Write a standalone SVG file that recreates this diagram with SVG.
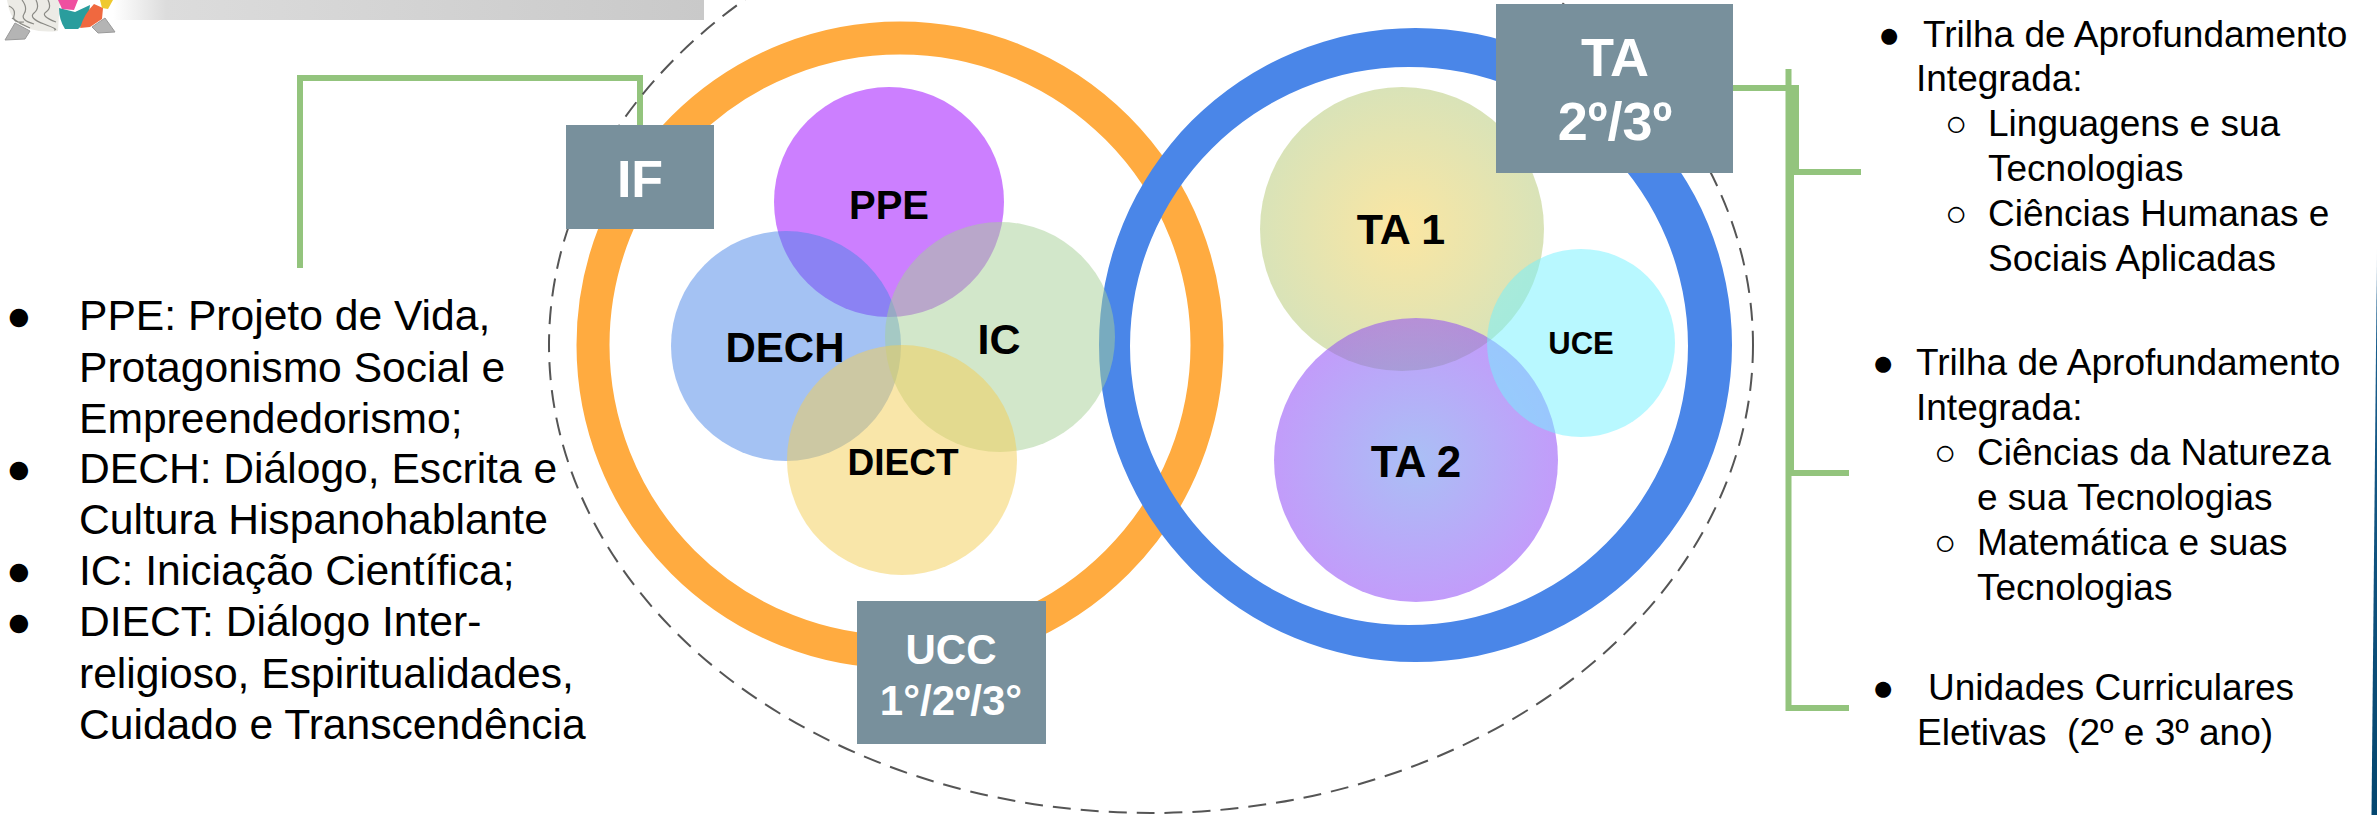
<svg xmlns="http://www.w3.org/2000/svg" width="2377" height="815" viewBox="0 0 2377 815">
<defs>
<linearGradient id="hdr" x1="0" x2="1" y1="0" y2="0"><stop offset="0" stop-color="#ffffff"/><stop offset="0.09" stop-color="#dcdcdc"/><stop offset="1" stop-color="#c9c9c9"/></linearGradient>
<linearGradient id="edge" x1="0" x2="0" y1="0" y2="1"><stop offset="0" stop-color="#ffffff"/><stop offset="0.1" stop-color="#1a5f8f"/><stop offset="1" stop-color="#04466f"/></linearGradient>
<radialGradient id="ta1g"><stop offset="0" stop-color="#fbe6a2"/><stop offset="1" stop-color="#d9e3b8"/></radialGradient>
<radialGradient id="ta2g"><stop offset="0" stop-color="#648ced"/><stop offset="1" stop-color="#904bf6"/></radialGradient>
<style>
.t{font-family:"Liberation Sans",Arial,sans-serif;fill:#000}
.l{font-size:42.6px}
.r{font-size:37px}
.box{fill:#78909c}
.w{font-family:"Liberation Sans",Arial,sans-serif;font-weight:700;fill:#fff;text-anchor:middle}
.c{font-family:"Liberation Sans",Arial,sans-serif;font-weight:700;fill:#000;text-anchor:middle}
.g{fill:none;stroke:#93c47d;stroke-width:6}
.br{fill:none;stroke:#8a8a85;stroke-width:1.2}
</style>
</defs>
<rect width="2377" height="815" fill="#fff"/>
<g id="header"><rect x="113" y="0" width="591" height="20" fill="url(#hdr)"/>
<path d="M15 23L5 40L25 39L30 31Z M92 27L105 18L115 32L98 33Z" fill="#b4b4b4" stroke="#9a9a9a"/>
<path d="M7 0Q9 14 16 22Q32 34 58 31L60 0Z" fill="#ecebe6"/>
<path class="br" d="M9 6Q16 9 14 16T24 22M22 0Q28 8 24 14T34 24M36 0Q40 8 34 13T44 24T54 30M48 0Q52 8 46 12T56 22M12 18Q20 24 30 28"/>
<path d="M59 8L75 12L90 5L88 20L78 29L65 29Q59 20 59 8Z" fill="#2a9d9d"/>
<path d="M80 28Q84 14 94 4L103 8L102 19L90 27Z" fill="#f0683f"/>
<path d="M58 0H78L74 10L62 9Z" fill="#ef4fa0"/>
<path d="M100 0H113L108 9L102 8Z" fill="#efc92e"/></g>
<path id="edge-bar" d="M2377 245V815H2371.500Z" fill="url(#edge)"/>
<g id="connectors">
<path class="g" d="M300 268V78H640V125"/>
<path class="g" d="M1733 88H1796V172H1861"/>
<path class="g" d="M1788.500 69V708H1849M1788.500 473H1849"/>
<path class="g" d="M1791 88V473"/>
</g>
<ellipse id="boundary" cx="1151" cy="345" rx="602" ry="468" fill="none" stroke="#555" stroke-width="2" stroke-dasharray="18 10"/>
<g id="ring-ucc"><circle cx="900" cy="345" r="307" fill="none" stroke="#ffab40" stroke-width="33"/></g>
<g id="ring-ta"><path fill="#4a86e8" fill-rule="evenodd" d="M1099 345a316.500 317 0 1 0 633 0a316.500 317 0 1 0 -633 0ZM1130 346a279 279 0 1 0 558 0a279 279 0 1 0 -558 0Z"/></g>
<g id="ppe"><circle cx="889" cy="202" r="115" fill="#9900ff" opacity=".5"/></g>
<g id="dech"><circle cx="786" cy="346" r="115" fill="#4a86e8" opacity=".5"/></g>
<g id="ic"><circle cx="1000" cy="337" r="115" fill="#a5cf95" opacity=".5"/></g>
<g id="diect"><circle cx="902" cy="460" r="115" fill="#f3cd53" opacity=".5"/></g>
<g id="ta1"><circle cx="1402" cy="229" r="142" fill="url(#ta1g)"/></g>
<g id="ta2"><circle cx="1416" cy="460" r="142" fill="url(#ta2g)" opacity=".55"/></g>
<g id="uce"><circle cx="1581" cy="343" r="94" fill="#72f1ff" opacity=".5"/></g>
<text class="c" x="889" y="219" font-size="40">PPE</text>
<text class="c" x="785" y="362" font-size="42">DECH</text>
<text class="c" x="999" y="354" font-size="43">IC</text>
<text class="c" x="903" y="475" font-size="37">DIECT</text>
<text class="c" x="1401" y="244" font-size="43">TA 1</text>
<text class="c" x="1416" y="477" font-size="44">TA 2</text>
<text class="c" x="1581" y="354" font-size="31">UCE</text>
<g id="if"><rect class="box" x="566" y="125" width="148" height="104"/><text class="w" x="640" y="197" font-size="52">IF</text></g>
<g id="ta"><rect class="box" x="1496" y="4" width="237" height="169"/><text class="w" x="1615" y="76" font-size="54">TA</text><text class="w" x="1615" y="140" font-size="54">2º/3º</text></g>
<g id="ucc"><rect class="box" x="857" y="601" width="189" height="143"/><text class="w" x="951" y="664" font-size="42">UCC</text><text class="w" x="951" y="715" font-size="42">1°/2º/3°</text></g>
<g id="left-list" class="t l">
<text x="6" y="330">●</text><text x="79" y="330">PPE: Projeto de Vida,</text>
<text x="79" y="382">Protagonismo Social e</text>
<text x="79" y="433">Empreendedorismo;</text>
<text x="6" y="483">●</text><text x="79" y="483">DECH: Diálogo, Escrita e</text>
<text x="79" y="534">Cultura Hispanohablante</text>
<text x="6" y="585">●</text><text x="79" y="585">IC: Iniciação Científica;</text>
<text x="6" y="636">●</text><text x="79" y="636">DIECT: Diálogo Inter-</text>
<text x="79" y="688">religioso, Espiritualidades,</text>
<text x="79" y="739">Cuidado e Transcendência</text>
</g>
<g id="right-list" class="t r">
<text x="1878" y="47">●</text><text x="1923" y="47">Trilha de Aprofundamento</text>
<text x="1916" y="91">Integrada:</text>
<text x="1945" y="136">○</text><text x="1988" y="136">Linguagens e sua</text>
<text x="1988" y="181">Tecnologias</text>
<text x="1945" y="226">○</text><text x="1988" y="226">Ciências Humanas e</text>
<text x="1988" y="271">Sociais Aplicadas</text>
<text x="1872" y="375">●</text><text x="1916" y="375">Trilha de Aprofundamento</text>
<text x="1916" y="420">Integrada:</text>
<text x="1934" y="465">○</text><text x="1977" y="465">Ciências da Natureza</text>
<text x="1977" y="510">e sua Tecnologias</text>
<text x="1934" y="555">○</text><text x="1977" y="555">Matemática e suas</text>
<text x="1977" y="600">Tecnologias</text>
<text x="1872" y="700">●</text><text x="1928" y="700">Unidades Curriculares</text>
<text x="1917" y="745">Eletivas &#160;(2º e 3º ano)</text>
</g>
</svg>
